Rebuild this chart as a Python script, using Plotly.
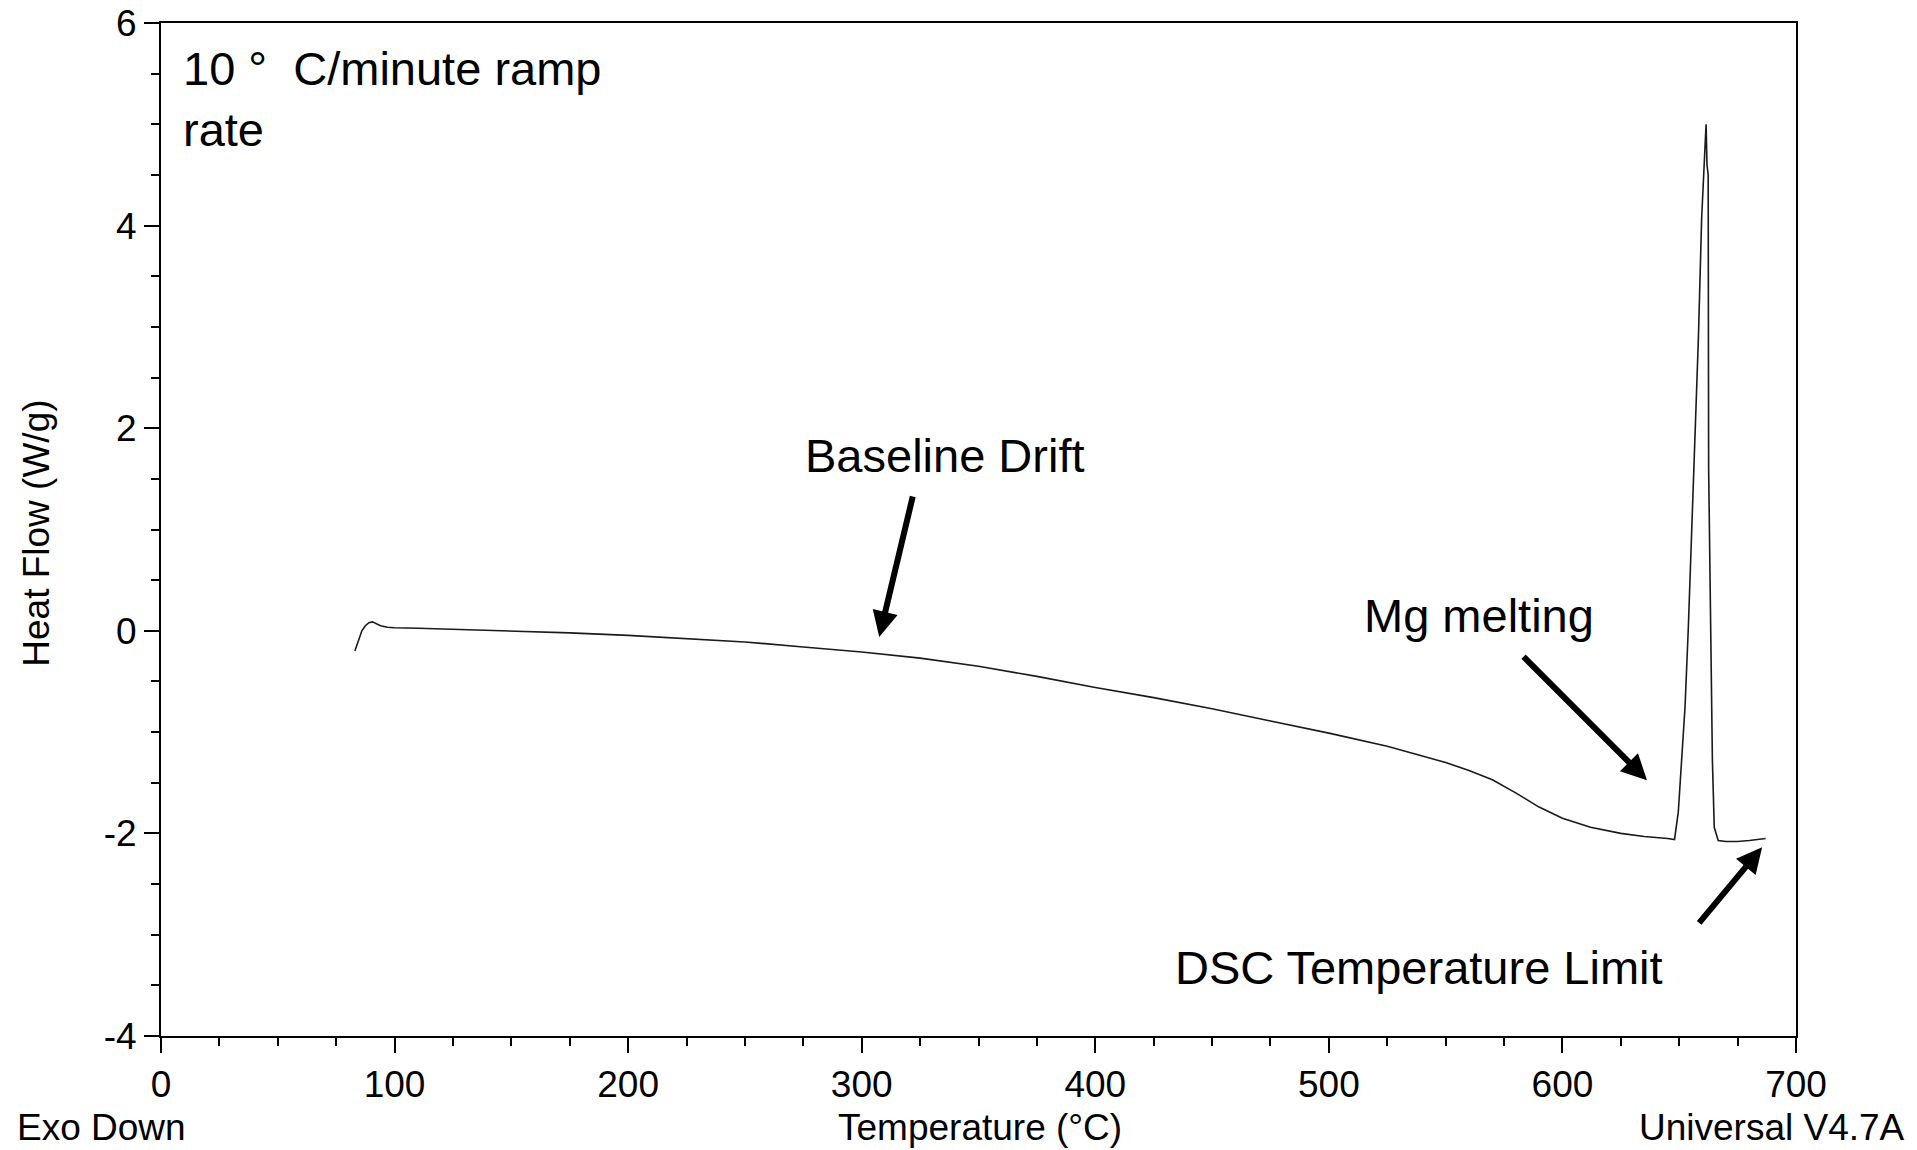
import plotly.graph_objects as go

# DSC curve
temperature = [83, 84, 85, 86, 87.5, 89, 90.5, 92, 94, 97, 100, 110, 125, 150, 175, 200, 225, 250, 275,
               300, 325, 350, 375, 400, 425, 450, 475, 500, 525, 550, 560, 570, 580, 590, 600, 612, 625,
               635, 645, 648, 649.6, 651.1, 652.5, 653.9, 655.4, 656.8, 658.2, 659.6, 660.7, 661.5,
               661.9, 662.4, 662.6, 663.2, 664.2, 665.0, 666.7, 670, 675, 680, 684, 687]
heat_flow = [-0.20, -0.13, -0.06, 0.0, 0.05, 0.08, 0.088, 0.075, 0.05, 0.035, 0.03, 0.025, 0.015, 0.0,
             -0.02, -0.045, -0.075, -0.11, -0.16, -0.21, -0.27, -0.35, -0.45, -0.56, -0.66, -0.77, -0.89,
             -1.01, -1.14, -1.30, -1.38, -1.47, -1.60, -1.74, -1.85, -1.94, -2.00, -2.03, -2.05, -2.06,
             -1.79, -1.27, -0.75, 0.03, 1.06, 1.84, 2.88, 4.07, 4.64, 5.0, 4.6, 4.5, 1.6, 0.29, -1.27,
             -1.94, -2.07, -2.08, -2.08, -2.07, -2.06, -2.05]

x_ticks = [0, 100, 200, 300, 400, 500, 600, 700]
x_tick_labels = ["0", "100", "200", "300", "400", "500", "600", "700"]
y_ticks = [-4, -2, 0, 2, 4, 6]
y_tick_labels = ["-4", "-2", "0", "2", "4", "6"]

FONT = "Liberation Sans, Arial, sans-serif"

fig = go.Figure()
fig.add_trace(go.Scatter(x=temperature, y=heat_flow, mode="lines",
                         line=dict(color="#1a1a1a", width=1.6), showlegend=False))

axis_common = dict(showgrid=False, zeroline=False, showline=True, linecolor="black", linewidth=2,
                   mirror=True, ticks="outside", ticklen=15, tickwidth=2, tickcolor="black",
                   tickfont=dict(family=FONT, size=37, color="black"))

fig.update_xaxes(range=[0, 700], tickvals=x_ticks, ticktext=x_tick_labels,
                 minor=dict(dtick=25, ticks="outside", ticklen=8, tickwidth=1.5, tickcolor="black"),
                 **axis_common)
fig.update_yaxes(range=[-4, 6], tickvals=y_ticks, ticktext=y_tick_labels,
                 minor=dict(dtick=0.5, ticks="outside", ticklen=8, tickwidth=1.5, tickcolor="black"),
                 **axis_common)

ann_font = dict(family=FONT, size=47, color="black")
lbl_font = dict(family=FONT, size=37, color="black")

annotations = [
    dict(x=8.4, y=5.246, xref="x", yref="y", text="10 \u00b0\u00a0 C/minute ramp<br>rate",
         showarrow=False, xanchor="left", yanchor="middle", align="left", font=ann_font),
    dict(x=335.6, y=1.735, xref="x", yref="y", text="Baseline Drift", showarrow=False,
         xanchor="center", yanchor="middle", font=ann_font),
    dict(x=564.3, y=0.155, xref="x", yref="y", text="Mg melting", showarrow=False,
         xanchor="center", yanchor="middle", font=ann_font),
    dict(x=538.6, y=-3.322, xref="x", yref="y", text="DSC Temperature Limit", showarrow=False,
         xanchor="center", yanchor="middle", font=ann_font),
    # arrows
    dict(x=307.5, y=-0.06, ax=322.0, ay=1.34, xref="x", yref="y", axref="x", ayref="y", text="",
         showarrow=True, arrowhead=2, arrowsize=0.85, arrowwidth=6, arrowcolor="black", standoff=0),
    dict(x=636.2, y=-1.475, ax=582.7, ay=-0.241, xref="x", yref="y", axref="x", ayref="y", text="",
         showarrow=True, arrowhead=2, arrowsize=0.85, arrowwidth=6, arrowcolor="black", standoff=0),
    dict(x=685.5, y=-2.137, ax=658.0, ay=-2.898, xref="x", yref="y", axref="x", ayref="y", text="",
         showarrow=True, arrowhead=2, arrowsize=0.85, arrowwidth=6, arrowcolor="black", standoff=0),
    # axis titles and footer labels
    dict(x=-0.0761, y=0.4964, xref="paper", yref="paper", text="Heat Flow (W/g)", textangle=-90,
         showarrow=False, xanchor="center", yanchor="middle", font=lbl_font),
    dict(x=-0.0896, y=-0.0903, xref="paper", yref="paper", text="Exo Down", showarrow=False,
         xanchor="left", yanchor="middle", font=lbl_font),
    dict(x=0.5008, y=-0.0903, xref="paper", yref="paper", text="Temperature (\u00b0C)", showarrow=False,
         xanchor="center", yanchor="middle", font=lbl_font),
    dict(x=1.0679, y=-0.0903, xref="paper", yref="paper", text="Universal V4.7A", showarrow=False,
         xanchor="right", yanchor="middle", font=lbl_font),
]

fig.update_layout(width=1917, height=1150, margin=dict(l=161, r=121, t=23, b=114, autoexpand=False),
                  plot_bgcolor="white", paper_bgcolor="white", annotations=annotations,
                  font=dict(family=FONT, color="black"))

fig.write_html("out.html")
